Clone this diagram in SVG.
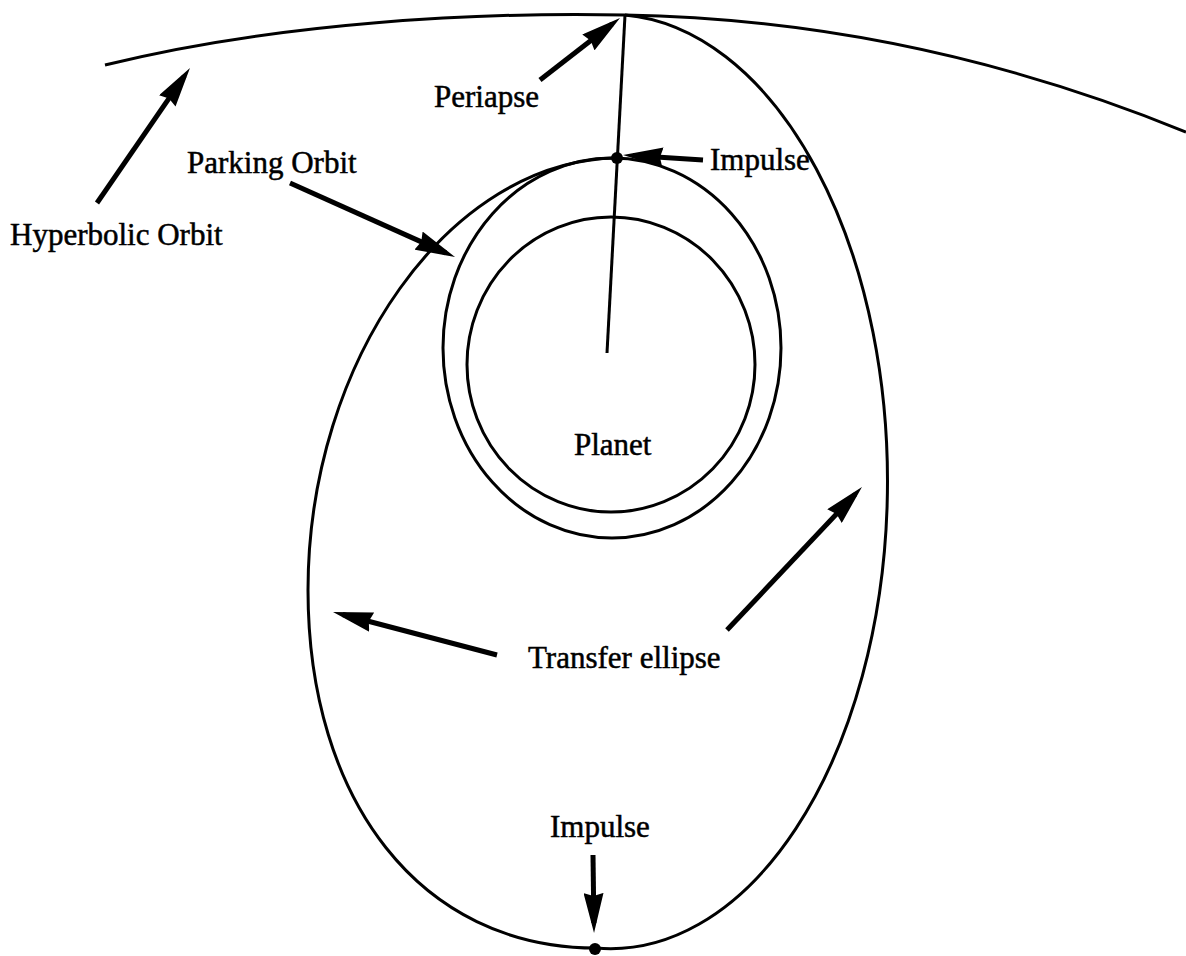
<svg xmlns="http://www.w3.org/2000/svg" width="1186" height="956" viewBox="0 0 1186 956">
<style>
.curve{fill:none;stroke:#000;stroke-width:3}
.arr{fill:none;stroke:#000;stroke-width:5;marker-end:url(#ah)}
text{font-family:"Liberation Serif","Times New Roman",serif;font-size:31px;fill:#000;stroke:#000;stroke-width:0.5}
</style>
<defs>
<marker id="ah" viewBox="0 0 40 20" refX="30" refY="10" markerWidth="40" markerHeight="20" markerUnits="userSpaceOnUse" orient="auto">
<path d="M0,0 L40,10 L0,20 L3,10 z" fill="#000"/>
</marker>
</defs>
<rect width="1186" height="956" fill="#fff"/>
<g id="hyperbolic-orbit">
<path class="curve" d="M105,65 C280,22 480,12 625,15 C800,18 990,52 1186,132"/>
</g>
<g id="planet">
<ellipse class="curve" cx="611" cy="364.5" rx="144" ry="147.5"/>
</g>
<g id="parking-orbit">
<ellipse class="curve" cx="612" cy="348" rx="169" ry="190"/>
</g>
<g id="transfer-ellipse">
<path class="curve" d="M617,158 C450,160 308,360 308,590 C308,800 420,948 596,948"/>
<path class="curve" d="M625,15 A277 467 0 0 1 596,948"/>
</g>
<g id="radius">
<path class="curve" d="M625,15 L607,353"/>
</g>
<g id="impulse-points">
<circle cx="617" cy="158" r="6" fill="#000"/>
<circle cx="595" cy="949" r="6" fill="#000"/>
</g>
<g id="connectors">
<path class="arr" d="M97,203 L184.3,76.2"/>
<path class="arr" d="M290,183 L445.9,252.9"/>
<path class="arr" d="M540,80 L612.1,24.1"/>
<path class="arr" d="M703,160 L633,155.6"/>
<path class="arr" d="M497,655 L342.7,614.5"/>
<path class="arr" d="M727,630 L855.1,494.3"/>
<path class="arr" d="M593,855 L593.9,923"/>
</g>
<g id="labels">
<text x="10" y="245">Hyperbolic Orbit</text>
<text x="187" y="173">Parking Orbit</text>
<text x="434" y="107">Periapse</text>
<text x="710" y="170">Impulse</text>
<text x="574" y="455">Planet</text>
<text x="528" y="668">Transfer ellipse</text>
<text x="550" y="837">Impulse</text>
</g>
</svg>
